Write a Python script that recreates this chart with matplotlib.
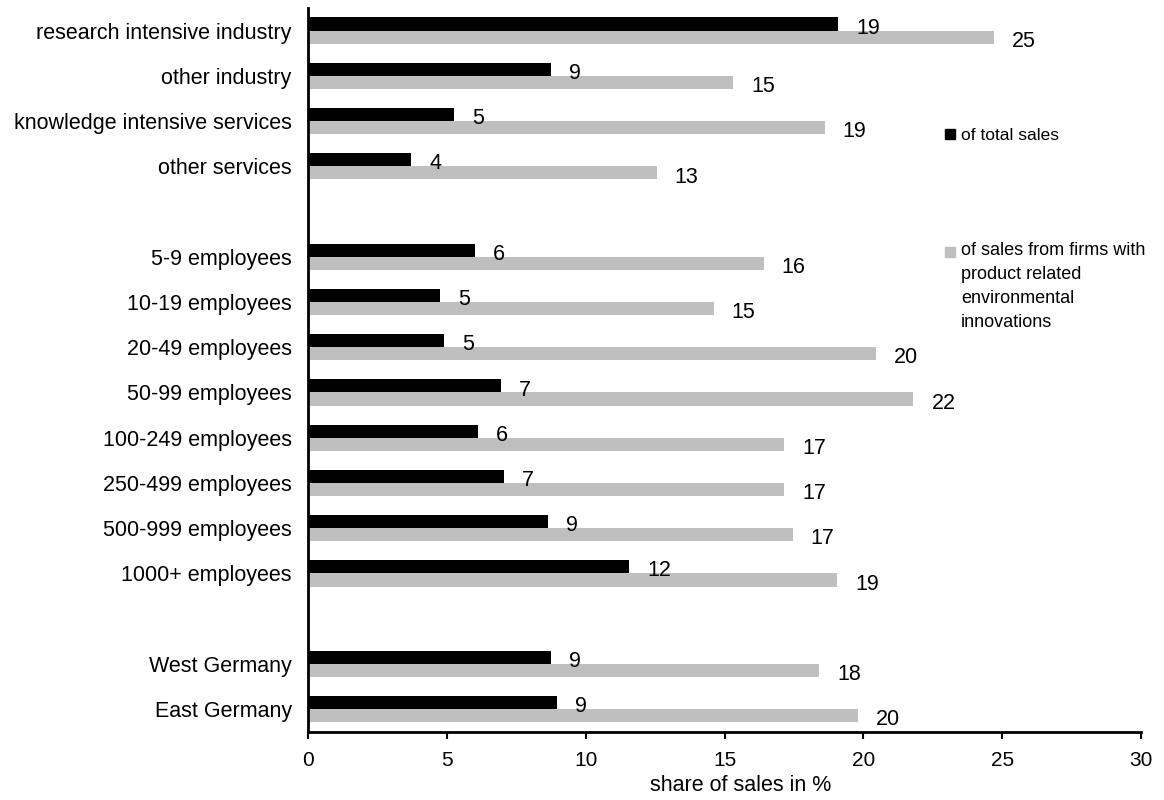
import matplotlib
matplotlib.use("Agg")
import matplotlib.pyplot as plt
from matplotlib.patches import Rectangle

plt.rcParams['font.family'] = ['Liberation Sans', 'DejaVu Sans']

# categories, grouped (a blank row sits between groups)
sectors = ["research intensive industry", "other industry",
           "knowledge intensive services", "other services"]
sizes = ["5-9 employees", "10-19 employees", "20-49 employees", "50-99 employees",
         "100-249 employees", "250-499 employees", "500-999 employees", "1000+ employees"]
regions = ["West Germany", "East Germany"]

# share of total sales (%)
total_sales = [19.1, 8.75, 5.25, 3.7,
               6.0, 4.75, 4.9, 6.95, 6.1, 7.05, 8.65, 11.55,
               8.75, 8.95]
# share of sales from firms with product related environmental innovations (%)
env_sales = [24.7, 15.3, 18.6, 12.55,
             16.4, 14.6, 20.45, 21.8, 17.15, 17.15, 17.45, 19.05,
             18.4, 19.8]

labels = sectors + sizes + regions
pos = []
row = 0
for grp in (sectors, sizes, regions):
    for _ in grp:
        pos.append(row)
        row += 1
    row += 1   # blank row
nrows = row - 1

black = "#000000"
grey = "#bfbfbf"
h = 0.29
fs = 15.5

fig = plt.figure(figsize=(11.64, 8), dpi=100)
ax = fig.add_axes([308.3 / 1164, 1 - 731.7 / 800, (1141 - 308.3) / 1164, (731.7 - 8) / 800])

yb = [p - h / 2 for p in pos]
yg = [p + h / 2 for p in pos]
ax.barh(yb, total_sales, height=h, color=black)
ax.barh(yg, env_sales, height=h, color=grey)

for y, v in zip(yb, total_sales):
    ax.annotate(f"{v:.0f}", (v, y), xytext=(13, -3), textcoords="offset points",
                va="center", ha="left", fontsize=fs)
for y, v in zip(yg, env_sales):
    ax.annotate(f"{v:.0f}", (v, y), xytext=(13, -3), textcoords="offset points",
                va="center", ha="left", fontsize=fs)

ax.set_xlim(0, 30)
ax.set_ylim(nrows - 0.5, -0.5)
ax.set_xticks([0, 5, 10, 15, 20, 25, 30])
ax.set_yticks(pos)
ax.set_yticklabels(labels, fontsize=fs)
ax.tick_params(axis="y", length=0, pad=12)
ax.tick_params(axis="x", labelsize=15, length=5, width=1.5, pad=9)
ax.set_xlabel("share of sales in %", fontsize=fs)
ax.xaxis.set_label_coords((741 - 308.3) / (1141 - 308.3), -0.06)

for s in ("top", "right"):
    ax.spines[s].set_visible(False)
for s in ("left", "bottom"):
    ax.spines[s].set_linewidth(2)

# legend drawn by hand to keep Excel-like placement
W, H = 1164, 800
fig.patches.append(Rectangle((945 / W, 1 - 139 / H), 10 / W, 10 / H,
                             transform=fig.transFigure, color=black))
fig.text(961 / W, 1 - 135 / H, "of total sales", fontsize=12.5, va="center")
fig.patches.append(Rectangle((945 / W, 1 - 257 / H), 10 / W, 10 / H,
                             transform=fig.transFigure, color=grey))
fig.text(961 / W, 1 - 242 / H,
         "of sales from firms with\nproduct related\nenvironmental\ninnovations",
         fontsize=13, va="top", linespacing=1.55)

fig.savefig("out.png", dpi=100)
